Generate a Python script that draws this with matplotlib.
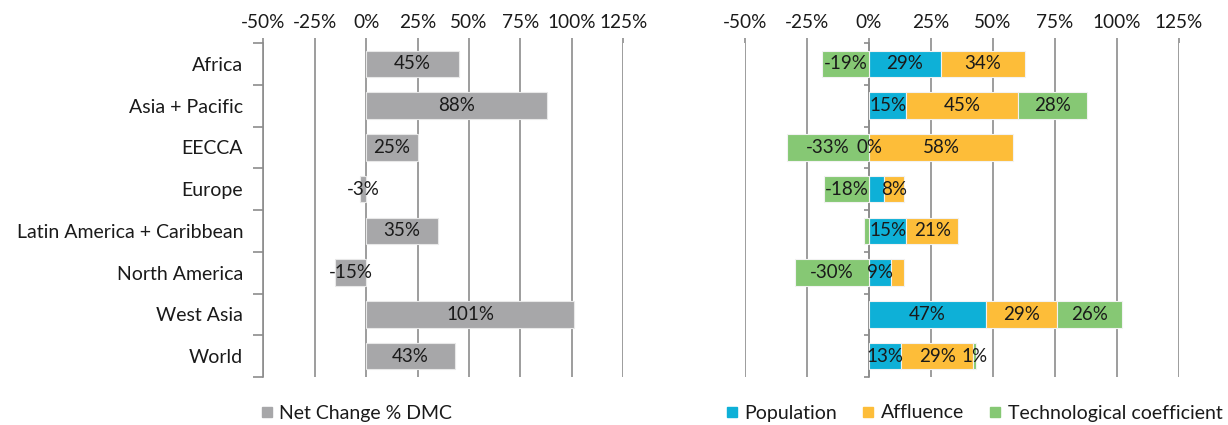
import matplotlib
matplotlib.use("Agg")
import matplotlib.pyplot as plt
from matplotlib.lines import Line2D
import numpy as np

plt.rcParams['font.family'] = ['Lato', 'DejaVu Sans']

categories = ["Africa", "Asia + Pacific", "EECCA", "Europe",
              "Latin America + Caribbean", "North America", "West Asia", "World"]
net_change = [45, 88, 25, -3, 35, -15, 101, 43]
population = [29, 15, 0, 6, 15, 9, 47, 13]
affluence = [34, 45, 58, 8, 21, 5, 29, 29]
technology = [-19, 28, -33, -18, -2, -30, 26, 1]
pop_labels = ["29%", "15%", "0%", "", "15%", "9%", "47%", "13%"]
aff_labels = ["34%", "45%", "58%", "8%", "21%", "", "29%", "29%"]
tech_labels = ["-19%", "28%", "-33%", "-18%", "", "-30%", "26%", "1%"]
net_labels = ["45%", "88%", "25%", "-3%", "35%", "-15%", "101%", "43%"]
xticks = [-50, -25, 0, 25, 50, 75, 100, 125]
xtick_labels = ["-50%", "-25%", "0%", "25%", "50%", "75%", "100%", "125%"]

C_GRAY = "#A7A7A9"
C_BLUE = "#0EB0D7"
C_ORANGE = "#FDBD39"
C_GREEN = "#86C874"
GRID = "#8C8C8C"
TXT = "#1a1a1a"

W, H = 1228, 425
fig = plt.figure(figsize=(W / 100, H / 100), dpi=100)

def px_axes(x0, x1, y0, y1):
    return fig.add_axes([x0 / W, 1 - y1 / H, (x1 - x0) / W, (y1 - y0) / H])

axL = px_axes(263.3, 623.3, 43, 377)
axR = px_axes(745, 1179, 43, 377)

y = np.arange(len(categories))
bh = 0.64
FS = 14
FSB = 13.5

def style(ax):
    ax.set_xlim(-50, 125)
    ax.set_ylim(len(categories) - 0.5, -0.5)
    ax.set_xticks(xticks)
    ax.set_xticklabels(xtick_labels, fontsize=FS - 0.3, color=TXT)
    ax.xaxis.tick_top()
    ax.tick_params(axis='x', which='both', length=3.5, width=1.2, color=GRID, pad=5)
    ax.grid(axis='x', color=GRID, linewidth=1.2, zorder=0)
    ax.set_axisbelow(True)
    for s in ['top', 'bottom', 'right']:
        ax.spines[s].set_visible(False)
    ax.spines['left'].set_color(GRID)
    ax.spines['left'].set_linewidth(1.2)
    ax.set_yticks(np.arange(-0.5, len(categories) + 0.5, 1.0), minor=True)
    ax.tick_params(axis='y', which='minor', length=7, width=1.2, color=GRID)

style(axL)
axL.set_yticks(y)
axL.set_yticklabels(categories, fontsize=FS, color=TXT)
axL.tick_params(axis='y', which='major', length=0, pad=14.5)

bars = axL.barh(y, net_change, height=bh, color=C_GRAY, edgecolor="#e8e8e8", linewidth=0.8, zorder=3)
for b, lab in zip(bars, net_labels):
    cx = b.get_x() + b.get_width() / 2
    axL.text(cx, b.get_y() + b.get_height() / 2, lab, ha='center', va='center',
             fontsize=FSB, color=TXT, zorder=4)

style(axR)
axR.spines['left'].set_position(('data', 0))
axR.set_yticks([])
axR.set_yticks(np.arange(-0.5, len(categories) + 0.5, 1.0), minor=True)
axR.tick_params(axis='y', which='minor', length=3.5, width=1.2, color=GRID)

pop = np.array(population, dtype=float)
aff = np.array(affluence, dtype=float)
tec = np.array(technology, dtype=float)
tech_left = np.where(tec > 0, pop + aff, 0)

def draw(ax, vals, left, color, labels):
    bs = ax.barh(y, vals, left=left, height=bh, color=color, edgecolor="#f2f2f2",
                 linewidth=0.8, zorder=3)
    for b, lab in zip(bs, labels):
        if lab:
            cx = b.get_x() + b.get_width() / 2
            ax.text(cx, b.get_y() + b.get_height() / 2, lab, ha='center', va='center',
                    fontsize=FSB, color=TXT, zorder=5)
    return bs

draw(axR, pop, 0, C_BLUE, pop_labels)
draw(axR, aff, pop, C_ORANGE, aff_labels)
draw(axR, tec, tech_left, C_GREEN, tech_labels)

def handle(c):
    return Line2D([], [], marker='s', linestyle='none', markersize=7, color=c)

fig.legend([handle(C_GRAY)], ["Net Change % DMC"], loc='center left',
           bbox_to_anchor=(249 / W, 1 - 413 / H), frameon=False, fontsize=FS,
           handletextpad=0.15, borderaxespad=0, handlelength=1.0, labelcolor=TXT)
fig.legend([handle(C_BLUE), handle(C_ORANGE), handle(C_GREEN)],
           ["Population", "Affluence", "Technological coefficient"], loc='center left',
           bbox_to_anchor=(714 / W, 1 - 413 / H), frameon=False, fontsize=FS, ncol=3,
           handletextpad=0.15, borderaxespad=0, handlelength=1.0, columnspacing=1.1,
           labelcolor=TXT)

fig.savefig("out.png", dpi=100)
